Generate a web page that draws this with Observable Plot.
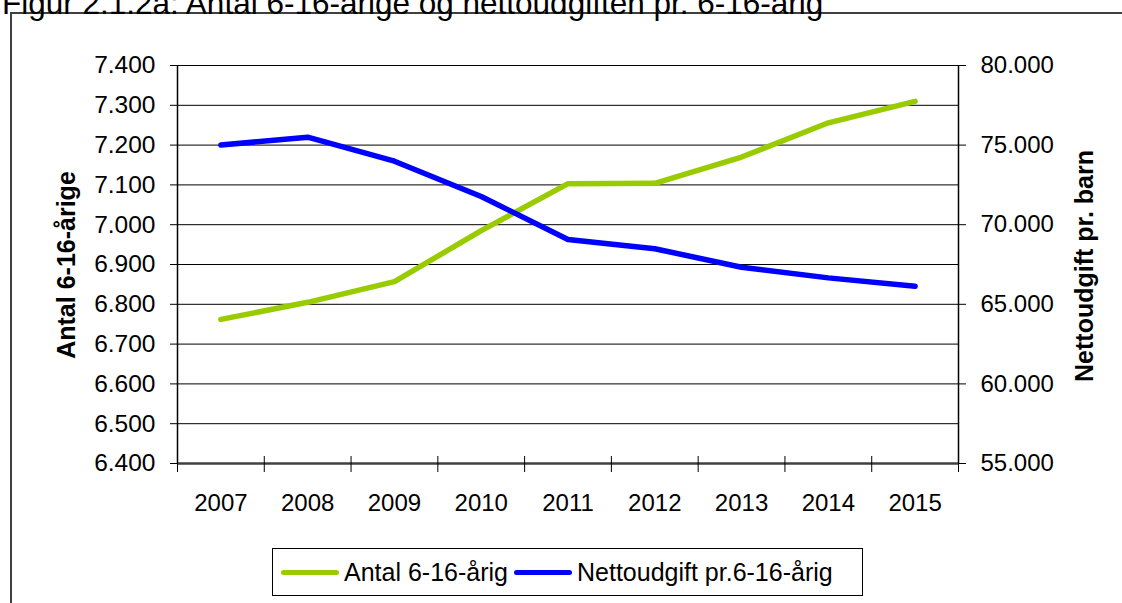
<!DOCTYPE html>
<html>
<head>
<meta charset="utf-8">
<script src="https://cdn.jsdelivr.net/npm/d3@7"></script>
<script src="https://cdn.jsdelivr.net/npm/@observablehq/plot@0.6"></script>
<style>
  html, body { margin: 0; padding: 0; background: #fff; overflow: hidden; }
  #wrap { position: relative; width: 1122px; height: 603px; overflow: hidden; font-family: "Liberation Sans", Arial, sans-serif; }
  #title { position: absolute; left: 2px; top: -13px; font-size: 31.5px; line-height: 32px; white-space: nowrap; color: #000; }
  #border { position: absolute; left: 10px; top: 12px; width: 1200px; height: 700px; border-left: 2px solid #404040; border-top: 2px solid #404040; }
  #chart { position: absolute; left: 0; top: 0; }
  .ytitle { position: absolute; font-size: 25px; font-weight: bold; white-space: nowrap; color: #000; line-height: 25px;
            transform: translate(-50%, -50%) rotate(-90deg); }
  #legend { position: absolute; left: 272px; top: 548px; width: 591px; height: 48px; border: 1px solid #000; background: #fff;
            display: flex; align-items: center; font-size: 25px; color: #000; box-sizing: border-box; }
  .sw { display: inline-block; width: 58px; height: 5px; border-radius: 3px; margin-right: 5px; }
  .item { display: flex; align-items: center; white-space: nowrap; }
</style>
</head>
<body>
<div id="wrap">
  <div id="border"></div>
  <div id="title"></div>
  <div id="chart"></div>
  <div id="ltitle" class="ytitle" style="left:66px; top:265px;"></div>
  <div id="rtitle" class="ytitle" style="left:1084px; top:266px;"></div>
  <div id="legend"></div>
</div>
<script>
// ---- data ----
const titleText = "Figur 2.1.2a: Antal 6-16-årige og nettoudgiften pr. 6-16-årig";
const years = [2007, 2008, 2009, 2010, 2011, 2012, 2013, 2014, 2015];
const antal = [6762, 6805, 6857, 6985, 7103, 7104, 7170, 7256, 7310];
const netto = [75000, 75500, 73990, 71770, 69070, 68490, 67330, 66660, 66140];
const leftTicks = [6400, 6500, 6600, 6700, 6800, 6900, 7000, 7100, 7200, 7300, 7400];
const rightTicks = [55000, 60000, 65000, 70000, 75000, 80000];
const seriesNames = ["Antal 6-16-årig", "Nettoudgift pr.6-16-årig"];
const seriesColors = ["#99CC00", "#0000FF"];
const leftLabel = "Antal 6-16-årige";
const rightLabel = "Nettoudgift pr. barn";

// ---- helpers ----
const leftDomain = [6400, 7400];
const rightDomain = [55000, 80000];
const toLeft = v => leftDomain[0] + (v - rightDomain[0]) / (rightDomain[1] - rightDomain[0]) * (leftDomain[1] - leftDomain[0]);
const fromLeft = v => rightDomain[0] + (v - leftDomain[0]) / (leftDomain[1] - leftDomain[0]) * (rightDomain[1] - rightDomain[0]);
const dk = d3.formatLocale({decimal: ",", thousands: ".", grouping: [3], currency: ["", ""]});
const fmt = dk.format(",.0f");

const rows = [];
years.forEach((y, i) => {
  rows.push({year: y, series: seriesNames[0], v: antal[i]});
});
years.forEach((y, i) => {
  rows.push({year: y, series: seriesNames[1], v: toLeft(netto[i])});
});
const bounds = [years[0] - 0.5, ...years.map(y => y + 0.5)];
const xDomain = [years[0] - 0.5, years[years.length - 1] + 0.5];

document.getElementById("title").textContent = titleText;
document.getElementById("ltitle").textContent = leftLabel;
document.getElementById("rtitle").textContent = rightLabel;

const chart = Plot.plot({
  width: 1122,
  height: 603,
  marginLeft: 177,
  marginRight: 164,
  marginTop: 65,
  marginBottom: 140,
  style: {fontFamily: "'Liberation Sans', Arial, sans-serif", fontSize: "24px", color: "#000", background: "transparent", overflow: "visible"},
  x: {type: "linear", domain: xDomain, axis: null},
  y: {domain: leftDomain, axis: null},
  color: {domain: seriesNames, range: seriesColors},
  marks: [
    Plot.gridY(leftTicks, {stroke: "#000", strokeOpacity: 1, strokeWidth: 1}),
    Plot.ruleX([xDomain[0], xDomain[1]], {stroke: "#000", strokeWidth: 1.5}),
    Plot.ruleY([leftDomain[0]], {stroke: "#404040", strokeWidth: 2.5}),
    Plot.axisY(leftTicks, {anchor: "left", tickSize: 7, tickPadding: 15, tickFormat: fmt, label: null, fontSize: 24.5, stroke: "#000"}),
    Plot.axisY(rightTicks.map(toLeft), {anchor: "right", tickSize: 7, tickPadding: 15, tickFormat: d => fmt(fromLeft(d)), label: null, fontSize: 24}),
    Plot.ruleX(bounds, {x: d => d, y1: leftDomain[0], y2: leftDomain[0], insetTop: -7, insetBottom: -9, stroke: "#000", strokeWidth: 1}),
    Plot.axisX(years, {anchor: "bottom", tickSize: 0, tickPadding: 30, tickFormat: d => String(d), label: null, fontSize: 24}),
    Plot.line(rows, {x: "year", y: "v", z: "series", stroke: "series", strokeWidth: 5.5, strokeLinecap: "round", strokeLinejoin: "round"})
  ]
});
document.getElementById("chart").appendChild(chart);

// legend
const legend = document.getElementById("legend");
seriesNames.forEach((name, i) => {
  const item = document.createElement("span");
  item.className = "item";
  item.style.marginLeft = i === 0 ? "8px" : "6px";
  const sw = document.createElement("span");
  sw.className = "sw";
  sw.style.background = seriesColors[i];
  const t = document.createElement("span");
  t.textContent = name;
  item.appendChild(sw);
  item.appendChild(t);
  legend.appendChild(item);
});
</script>
</body>
</html>
